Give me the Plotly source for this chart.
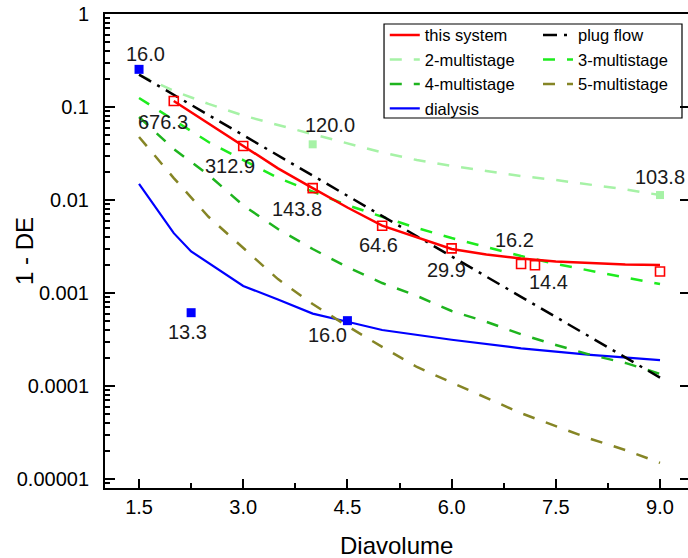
import math
import plotly.graph_objects as go

# ---------------- data ----------------
x_grid = [1.5, 2.0, 2.5, 3.0, 3.5, 4.0, 4.5, 5.0, 5.5, 6.0, 6.5, 7.0, 7.5, 8.0, 8.5, 9.0]
plug_flow = [0.223, 0.135, 0.082, 0.0498, 0.0302, 0.0183, 0.0111, 0.0067, 0.0041,
             0.00248, 0.0015, 0.00091, 0.00055, 0.000335, 0.0002, 0.000123]
multi2 = [0.221, 0.149, 0.108, 0.081, 0.064, 0.051, 0.041, 0.0324, 0.0269,
          0.0232, 0.0205, 0.0181, 0.0164, 0.0147, 0.013, 0.0113]
multi3 = [0.125, 0.073, 0.042, 0.0269, 0.0173, 0.0123, 0.0088, 0.0066, 0.0050,
          0.0039, 0.00313, 0.0025, 0.00205, 0.00175, 0.00147, 0.00125]
multi4 = [0.078, 0.0353, 0.0186, 0.00875, 0.00488, 0.00297, 0.0019, 0.00128, 0.00093,
          0.00064, 0.00049, 0.00036, 0.000276, 0.000216, 0.000177, 0.000135]
multi5 = [0.0476, 0.0172, 0.0066, 0.00305, 0.00141, 0.00076, 0.00044, 0.000263, 0.00016,
          0.000109, 0.000074, 0.000051, 0.000037, 0.000027, 0.0000205, 0.0000149]

system_x = [2.0, 2.5, 3.0, 3.5, 4.0, 4.5, 5.0, 5.5, 6.0, 6.5, 7.0, 7.5, 8.0, 8.5, 9.0]
system_y = [0.116, 0.0665, 0.0381, 0.0219, 0.0134, 0.0083, 0.0053, 0.00397, 0.00297,
            0.00259, 0.00235, 0.00218, 0.00208, 0.00202, 0.0020]

dialysis_x = [1.5, 2.0, 2.25, 3.0, 3.5, 4.0, 4.5, 5.0, 6.0, 7.0, 8.0, 9.0]
dialysis_y = [0.0149, 0.0044, 0.0028, 0.00119, 0.00085, 0.0006, 0.00049, 0.0004,
              0.000314, 0.000254, 0.000216, 0.00019]

# measured points with their labels
system_pts_x = [2.0, 3.0, 4.0, 5.0, 6.0, 7.0, 7.2, 9.0]
system_pts_y = [0.116, 0.0381, 0.0134, 0.00529, 0.00302, 0.00205, 0.00199, 0.0017]
system_labels = ["676.3", "312.9", "143.8", "64.6", "29.9", "16.2", "14.4", ""]

dialysis_pts_x = [1.5, 2.25, 4.5]
dialysis_pts_y = [0.254, 0.000614, 0.000504]
dialysis_labels = ["16.0", "13.3", "16.0"]

multi2_pts_x = [4.0, 9.0]
multi2_pts_y = [0.0397, 0.0113]
multi2_labels = ["120.0", "103.8"]

x_tickvals = [1.5, 3.0, 4.5, 6.0, 7.5, 9.0]
x_ticktext = ["1.5", "3.0", "4.5", "6.0", "7.5", "9.0"]
y_tickvals = [1, 0.1, 0.01, 0.001, 0.0001, 0.00001]
y_ticktext = ["1", "0.1", "0.01", "0.001", "0.0001", "0.00001"]

# ---------------- styling ----------------
FONT = "Arial, Liberation Sans, sans-serif"
DASH = "12px,12px"
C_PALE = "#A6F2A6"
C_LIME = "#1EEB1E"
C_GREEN = "#1EB41E"
C_OLIVE = "#858525"
LEG_FONT = 16.5

fig = go.Figure()


def line(x, y, name, color, width=2.5, dash="solid", legend="legend"):
    fig.add_trace(go.Scatter(x=x, y=y, mode="lines", name=name,
                             line=dict(color=color, width=width, dash=dash),
                             legend=legend, hoverinfo="skip"))


# drawing order (bottom -> top); legends are reversed so they read top-down correctly
line(dialysis_x, dialysis_y, "dialysis", "#0000FF", 2.2, "solid", "legend")
line(x_grid, multi5, "5-multistage", C_OLIVE, 2.5, DASH, "legend2")
line(x_grid, multi4, "4-multistage", C_GREEN, 2.5, DASH, "legend")
line(x_grid, multi3, "3-multistage", C_LIME, 2.5, DASH, "legend2")
line(x_grid, multi2, "2-multistage", C_PALE, 2.5, DASH, "legend")
line(x_grid, plug_flow, "plug flow", "#000000", 2.5, "14px,7px,3px,7px", "legend2")
line(system_x, system_y, "this system", "#FF0000", 2.5, "solid", "legend")

fig.add_trace(go.Scatter(x=multi2_pts_x, y=multi2_pts_y, mode="markers", showlegend=False,
                         marker=dict(symbol="square", size=8, color=C_PALE), hoverinfo="skip"))
fig.add_trace(go.Scatter(x=system_pts_x, y=system_pts_y, mode="markers", showlegend=False,
                         marker=dict(symbol="square-open", size=9, color="#FF0000",
                                     line=dict(width=1.6, color="#FF0000")), hoverinfo="skip"))
fig.add_trace(go.Scatter(x=dialysis_pts_x, y=dialysis_pts_y, mode="markers", showlegend=False,
                         marker=dict(symbol="square", size=9, color="#0000FF"), hoverinfo="skip"))

# label offsets in pixels (dx right, dy down) relative to each point
system_off = [(-11, 21), (-13, 20), (-16, 21), (-4, 19), (-5, 22), (-7, -24), (14, 17), (0, 0)]
dialysis_off = [(6, -15), (-4, 19), (-20, 14)]
multi2_off = [(17, -19), (0, -18)]

annotations = []
for xs, ys, labs, offs in [(system_pts_x, system_pts_y, system_labels, system_off),
                           (dialysis_pts_x, dialysis_pts_y, dialysis_labels, dialysis_off),
                           (multi2_pts_x, multi2_pts_y, multi2_labels, multi2_off)]:
    for xv, yv, t, (dx, dy) in zip(xs, ys, labs, offs):
        if not t:
            continue
        annotations.append(dict(x=xv, y=math.log10(yv), xref="x", yref="y", text=t,
                                showarrow=False, xshift=dx, yshift=-dy,
                                xanchor="center", yanchor="middle",
                                font=dict(family=FONT, size=20, color="#1a1a1a")))

# axis titles
annotations.append(dict(text="Diavolume", xref="paper", yref="paper", x=0.5, y=-0.1203,
                        xanchor="center", yanchor="middle", showarrow=False,
                        font=dict(family=FONT, size=24, color="black")))
annotations.append(dict(text="1 - DE", xref="paper", yref="paper", x=-0.139, y=0.5,
                        xanchor="center", yanchor="middle", textangle=-90, showarrow=False,
                        font=dict(family=FONT, size=24, color="black")))

y_minor = [m * 10 ** e for e in range(-6, 0) for m in range(2, 10) if m * 10 ** e > 7.9e-6]
x_minor = [2.25, 3.75, 5.25, 6.75, 8.25]

Y_RANGE = [-5.097, 0]

fig.update_layout(
    width=688, height=558, autosize=False,
    margin=dict(l=105, r=0, t=14, b=70, pad=0),
    paper_bgcolor="white", plot_bgcolor="white",
    font=dict(family=FONT, size=20, color="black"),
    showlegend=True,
    xaxis=dict(range=[1.01, 9.403], tickmode="array", tickvals=x_tickvals, ticktext=x_ticktext,
               ticks="inside", ticklen=9, tickwidth=1.5, tickcolor="black",
               showline=True, linewidth=2, linecolor="black", mirror=True,
               showgrid=False, zeroline=False, ticklabelstandoff=0,
               tickfont=dict(family=FONT, size=20, color="black"),
               minor=dict(tickmode="array", tickvals=x_minor, ticks="inside", ticklen=5,
                          tickwidth=1.5, tickcolor="black", showgrid=False)),
    yaxis=dict(type="log", range=Y_RANGE, tickmode="array", tickvals=y_tickvals,
               ticktext=y_ticktext, ticks="inside", ticklen=10, tickwidth=1.5, tickcolor="black",
               showline=True, linewidth=2, linecolor="black", mirror=False,
               showgrid=False, zeroline=False, ticklabelstandoff=10,
               tickfont=dict(family=FONT, size=20, color="black"),
               minor=dict(tickmode="array", tickvals=y_minor, ticks="inside", ticklen=5,
                          tickwidth=1.5, tickcolor="black", showgrid=False)),
    yaxis2=dict(type="log", range=Y_RANGE, overlaying="y", side="right",
                tickmode="array", tickvals=y_tickvals, ticks="inside", ticklen=8, tickwidth=1.5,
                tickcolor="black", showticklabels=False, showline=False, showgrid=False,
                zeroline=False),
    legend=dict(x=0.4799, y=0.992, xanchor="left", yanchor="top", traceorder="reversed",
                bgcolor="rgba(0,0,0,0)", borderwidth=0,
                font=dict(family=FONT, size=LEG_FONT, color="black")),
    legend2=dict(x=0.7427, y=0.992, xanchor="left", yanchor="top", traceorder="reversed",
                 bgcolor="rgba(0,0,0,0)", borderwidth=0,
                 font=dict(family=FONT, size=LEG_FONT, color="black")),
    annotations=annotations,
    shapes=[dict(type="rect", xref="paper", yref="paper", x0=0.4786, x1=0.9897,
                 y0=0.7806, y1=0.9789, line=dict(color="black", width=1.2),
                 fillcolor="rgba(0,0,0,0)", layer="above")],
)

fig.add_trace(go.Scatter(x=[], y=[], yaxis="y2", showlegend=False, hoverinfo="skip"))

fig.write_html("out.html")
